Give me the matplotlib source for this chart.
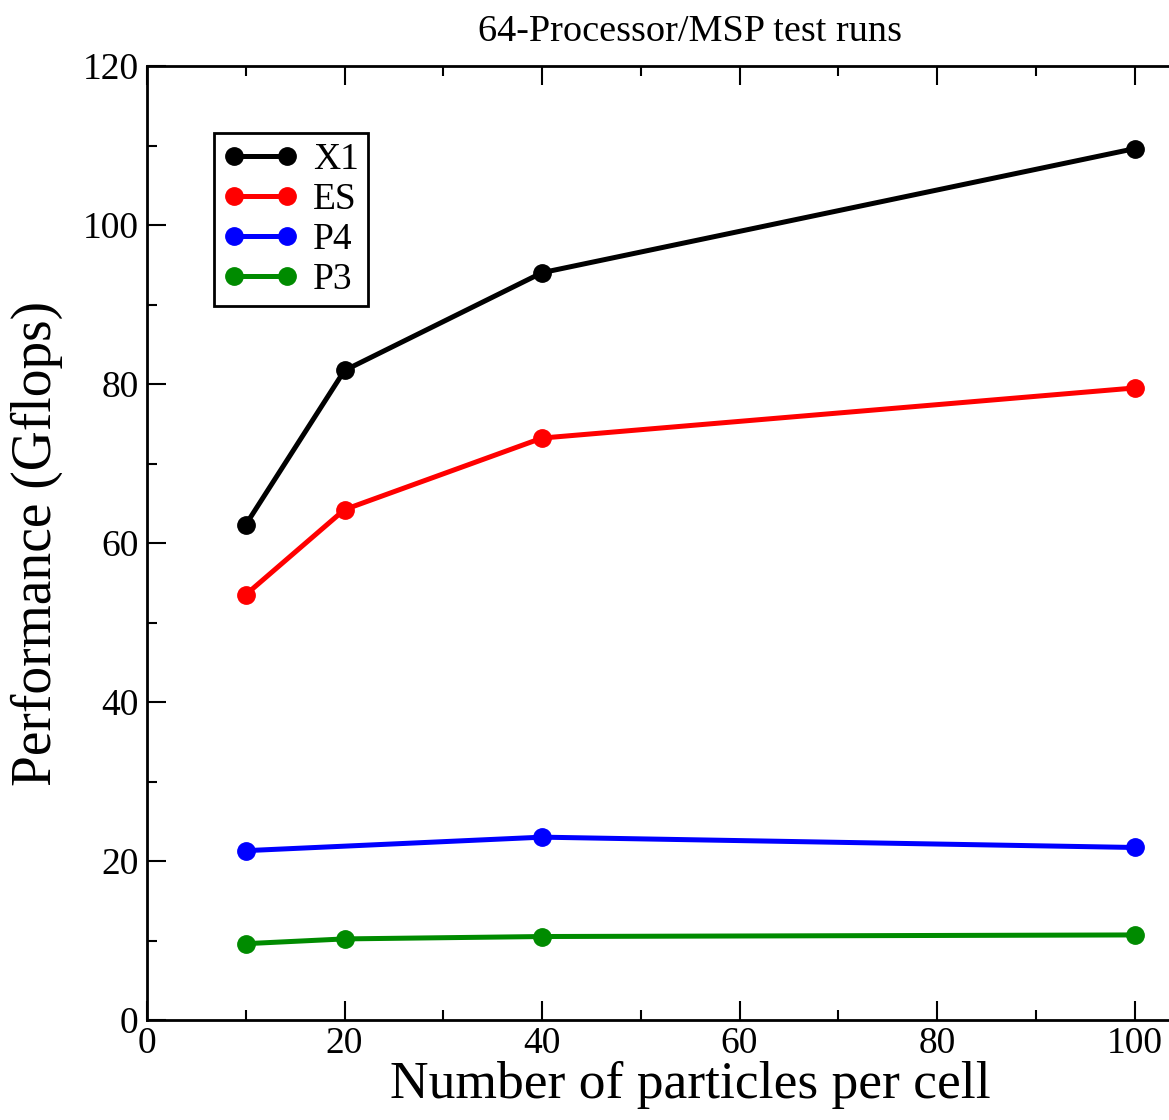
import matplotlib
matplotlib.use("Agg")
import matplotlib.pyplot as plt
from matplotlib.ticker import MultipleLocator

plt.rcParams['font.family'] = ['Liberation Serif', 'DejaVu Serif']

# data
x_x1 = [10, 20, 40, 100]
y_x1 = [62.3, 81.7, 94.0, 109.6]
x_es = [10, 20, 40, 100]
y_es = [53.5, 64.2, 73.2, 79.5]
x_p4 = [10, 40, 100]
y_p4 = [21.3, 23.0, 21.7]
x_p3 = [10, 20, 40, 100]
y_p3 = [9.6, 10.2, 10.5, 10.7]

W, H = 1169, 1120
fig = plt.figure(figsize=(W / 100, H / 100), dpi=100)
# axes: left 147px, top 66px, bottom 1020px; right part falls outside the figure
left, right, top, bottom = 147, 147 + 110 * 9.875, 66, 1020
ax = fig.add_axes([left / W, 1 - bottom / H, (right - left) / W, (bottom - top) / H])

series = [
    (x_x1, y_x1, "black", "X1"),
    (x_es, y_es, "red", "ES"),
    (x_p4, y_p4, "blue", "P4"),
    (x_p3, y_p3, "#008b00", "P3"),
]
for xs, ys, c, lab in series:
    ax.plot(xs, ys, "-o", color=c, lw=3.6, ms=12.5, label=lab, clip_on=False)

ax.set_xlim(0, 110)
ax.set_ylim(0, 120)
ax.xaxis.set_major_locator(MultipleLocator(20))
ax.xaxis.set_minor_locator(MultipleLocator(10))
ax.yaxis.set_major_locator(MultipleLocator(20))
ax.yaxis.set_minor_locator(MultipleLocator(10))
ax.tick_params(which="both", direction="in", top=True, right=False, width=1.5, labelsize=27)
ax.tick_params(which="major", length=14)
ax.tick_params(which="minor", length=7)
ax.tick_params(axis="x", pad=5)
ax.tick_params(axis="y", pad=6)
ax.spines["right"].set_visible(False)
for s in ax.spines.values():
    s.set_linewidth(2)

ax.set_xlabel("Number of particles per cell", fontsize=38.5, labelpad=0)
ax.set_ylabel("Performance (Gflops)", fontsize=40, labelpad=14)
ax.set_title("64-Processor/MSP test runs", fontsize=27.5, pad=18)

leg = ax.legend(loc="upper left", bbox_to_anchor=(0.0615, 0.93), fontsize=27,
                frameon=True, fancybox=False, edgecolor="black", framealpha=1,
                numpoints=2, handlelength=2.0, handletextpad=0.4, borderpad=0.25,
                labelspacing=0.15, borderaxespad=0)
leg.get_frame().set_linewidth(2)

fig.savefig("out.png", dpi=100)
